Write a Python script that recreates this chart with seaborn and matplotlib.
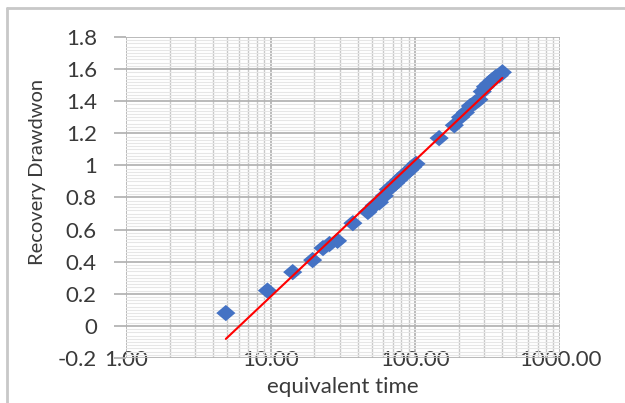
import numpy as np
import pandas as pd
import seaborn as sns
import matplotlib.pyplot as plt
from matplotlib.ticker import FixedLocator, MultipleLocator, LogLocator, FuncFormatter, NullFormatter
from matplotlib.lines import Line2D

# equivalent time vs recovery drawdown
equiv_time = [4.9, 9.5, 14.2, 19.5, 23, 25.5, 29, 37, 47, 52, 56.5, 61, 65, 69,
              73, 77, 81, 86, 91, 96, 101, 146, 186, 205, 222, 240, 258, 275,
              290, 305, 322, 340, 360, 380, 400]
drawdown = [0.08, 0.22, 0.335, 0.41, 0.485, 0.51, 0.53, 0.64, 0.71, 0.75, 0.77,
            0.81, 0.85, 0.87, 0.89, 0.91, 0.93, 0.95, 0.97, 0.99, 1.01, 1.17,
            1.25, 1.30, 1.33, 1.37, 1.39, 1.41, 1.46, 1.49, 1.51, 1.53, 1.55,
            1.56, 1.58]
y_ticks = [-0.2, 0, 0.2, 0.4, 0.6, 0.8, 1, 1.2, 1.4, 1.6, 1.8]
x_ticks = [1, 10, 100, 1000]

df = pd.DataFrame({'equivalent time': equiv_time, 'Recovery Drawdwon': drawdown})

sns.set_theme(style='white')
plt.rcParams['font.family'] = ['Lato', 'DejaVu Sans']

fig = plt.figure(figsize=(6.25, 4.03), dpi=100)
ax = fig.add_axes([126 / 625, 1 - 358 / 403, (560 - 126) / 625, (358 - 37) / 403])

diamond = [(-1, 0), (0, 0.85), (1, 0), (0, -0.85), (-1, 0)]
sns.scatterplot(data=df, x='equivalent time', y='Recovery Drawdwon', ax=ax,
                marker=diamond, s=190, color='#4472C4', edgecolor='none',
                linewidth=0, zorder=3)

# log trendline (least squares on log10 x)
b, a = np.polyfit(np.log10(df['equivalent time']), df['Recovery Drawdwon'], 1)
xt = np.array([min(equiv_time), max(equiv_time)])
ax.plot(xt, a + b * np.log10(xt), color='#FF0000', lw=1.5, zorder=4)

ax.set_xscale('log')
ax.set_xlim(1, 1000)
ax.set_ylim(-0.2, 1.8)
ax.xaxis.set_major_locator(FixedLocator(x_ticks))
ax.xaxis.set_minor_locator(LogLocator(base=10, subs=np.arange(2, 10)))
ax.xaxis.set_major_formatter(FuncFormatter(lambda v, p: f'{v:.2f}'))
ax.xaxis.set_minor_formatter(NullFormatter())
ax.yaxis.set_major_locator(FixedLocator(y_ticks))
ax.yaxis.set_minor_locator(MultipleLocator(0.02))
ax.yaxis.set_major_formatter(FuncFormatter(lambda v, p: f'{v:g}' if abs(v) > 1e-9 else '0'))

ax.grid(True, which='major', color='#b4b4b4', lw=1.3)
ax.grid(True, which='minor', axis='x', color='#c8c8c8', lw=1.0)
ax.grid(True, which='minor', axis='y', color='#e6e6e6', lw=0.8)
for s in ax.spines.values():
    s.set_visible(False)

ax.tick_params(axis='y', which='major', left=True, length=9, width=1.3,
               color='#b4b4b4', pad=12, labelsize=16, labelcolor='#3a3a3a')
ax.tick_params(axis='y', which='minor', left=False)
ax.tick_params(axis='x', which='both', bottom=False, pad=-12, labelsize=16,
               labelcolor='#3a3a3a')

ax.set_xlabel('equivalent time', fontsize=16, color='#3a3a3a', labelpad=5)
ax.set_ylabel('Recovery Drawdwon', fontsize=14.5, color='#3a3a3a')
ax.yaxis.set_label_coords(-0.185, 0.58)

# outer chart frame (top and left visible)
fig.add_artist(Line2D([7 / 625, 1], [1 - 8 / 403, 1 - 8 / 403], color='#c8c8c8', lw=2))
fig.add_artist(Line2D([7 / 625, 7 / 625], [0, 1 - 8 / 403], color='#c8c8c8', lw=2))

fig.savefig('out.png', dpi=100)
